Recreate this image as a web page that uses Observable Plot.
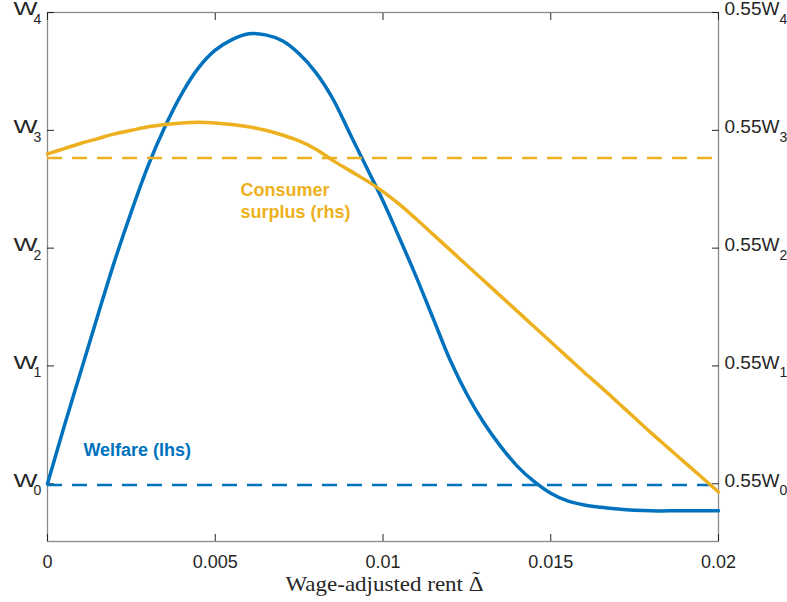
<!DOCTYPE html>
<html><head><meta charset="utf-8">
<script src="https://cdn.jsdelivr.net/npm/d3@7"></script>
<script src="https://cdn.jsdelivr.net/npm/@observablehq/plot@0.6"></script>
<style>body{margin:0;background:#fff}</style>
</head><body><div id="chart"></div>
<script>
// Wage-adjusted rent (x)
const rent = [0, 0.0005, 0.001, 0.0015, 0.002, 0.0025, 0.003, 0.0035, 0.004, 0.0045,
  0.005, 0.0055, 0.006, 0.0065, 0.007, 0.0075, 0.008, 0.0085, 0.009, 0.0095,
  0.01, 0.0105, 0.011, 0.0115, 0.012, 0.0125, 0.013, 0.0135, 0.014, 0.0145,
  0.015, 0.0155, 0.016, 0.0165, 0.017, 0.0175, 0.018, 0.0185, 0.019, 0.0195, 0.02];
// Welfare (lhs), in units of W ticks (W0 = 0)
const welfare = [0, 0.49, 0.96, 1.43, 1.89, 2.31, 2.70, 3.03, 3.31, 3.53,
  3.68, 3.77, 3.82, 3.81, 3.76, 3.65, 3.49, 3.27, 2.98, 2.69,
  2.40, 2.08, 1.75, 1.40, 1.05, 0.76, 0.52, 0.32, 0.15, 0.02,
  -0.08, -0.145, -0.18, -0.20, -0.215, -0.225, -0.23, -0.23, -0.23, -0.23, -0.23];
// Consumer surplus (rhs), in units of 0.55W ticks
const surplus = [2.80, 2.845, 2.89, 2.93, 2.97, 3.00, 3.03, 3.05, 3.063, 3.068,
  3.063, 3.05, 3.03, 3.00, 2.96, 2.91, 2.84, 2.745, 2.66, 2.575,
  2.48, 2.37, 2.245, 2.115, 1.985, 1.855, 1.725, 1.595, 1.465, 1.335,
  1.205, 1.075, 0.945, 0.82, 0.69, 0.56, 0.43, 0.305, 0.18, 0.055, -0.07];
const welfareBaseline = -0.01;
const surplusBaseline = 2.766;

const xTicks = [0, 0.005, 0.01, 0.015, 0.02];
const xTickLabels = ["0", "0.005", "0.01", "0.015", "0.02"];
const yTicks = [0, 1, 2, 3, 4];
const leftTickBase = "W";
const rightTickBase = "0.55W";
const tickSubscripts = ["0", "1", "2", "3", "4"];
const xLabel = "Wage-adjusted rent \u0394";
const xLabelAccent = "\u02DC";

const annotations = [
  {x: 0.00575, y: 2.259, text: "Consumer\nsurplus (rhs)", series: "surplus"},
  {x: 0.00107, y: 0.238, text: "Welfare (lhs)", series: "welfare"}
];

const blue = "#0072BD", orange = "#EDB120", ink = "#262626";
const welfareData = rent.map((x, i) => ({x, y: welfare[i]}));
const surplusData = rent.map((x, i) => ({x, y: surplus[i]}));
const serif = "'Liberation Serif', 'Times New Roman', serif";

const chart = Plot.plot({
  width: 787, height: 602,
  marginLeft: 47, marginRight: 69, marginTop: 12, marginBottom: 61,
  style: {fontFamily: "'Liberation Sans', Arial, Helvetica, sans-serif", fontSize: "18px", background: "white", color: ink, overflow: "visible"},
  x: {domain: [0, 0.02]},
  y: {domain: [-0.49, 4]},
  marks: [
    Plot.frame({stroke: "#8a8a8a", strokeWidth: 1.3}),
    Plot.axisX(xTicks, {anchor: "bottom", tickSize: -7, tickPadding: 21, tickFormat: d => xTickLabels[xTicks.indexOf(d)], label: null, fontSize: 18, fill: ink}),
    Plot.axisX(xTicks, {anchor: "top", tickSize: -7, tickFormat: () => "", label: null}),
    Plot.axisY(yTicks, {anchor: "left", tickSize: -7, tickFormat: () => "", label: null}),
    Plot.axisY(yTicks, {anchor: "right", tickSize: -7, tickFormat: () => "", label: null}),
    Plot.text(yTicks, {frameAnchor: "left", y: d => d, text: () => leftTickBase, textAnchor: "end", dx: -10, dy: -3, fontSize: 18, fill: ink}),
    Plot.text(yTicks, {frameAnchor: "left", y: d => d, text: d => tickSubscripts[d], textAnchor: "start", dx: -14, dy: 7, fontSize: 14, fill: ink}),
    Plot.text(yTicks, {frameAnchor: "right", y: d => d, text: () => rightTickBase, textAnchor: "start", dx: 6, dy: -3, fontSize: 18, fill: ink}),
    Plot.text(yTicks, {frameAnchor: "right", y: d => d, text: d => tickSubscripts[d], textAnchor: "start", dx: 61, dy: 7, fontSize: 14, fill: ink}),
    Plot.text([xLabel], {frameAnchor: "bottom", lineAnchor: "bottom", dx: 1.5, dy: 49, fontFamily: serif, fontSize: 21, fill: ink}),
    Plot.text([xLabelAccent], {frameAnchor: "bottom", lineAnchor: "bottom", dx: 93, dy: 44, fontFamily: serif, fontSize: 22, fill: ink}),
    Plot.ruleY([welfareBaseline], {x1: rent[0], x2: rent[rent.length - 1], stroke: blue, strokeWidth: 2.5, strokeDasharray: "15,10"}),
    Plot.line(welfareData, {x: "x", y: "y", stroke: blue, strokeWidth: 3.5, curve: "catmull-rom"}),
    Plot.ruleY([surplusBaseline], {x1: rent[0], x2: rent[rent.length - 1], stroke: orange, strokeWidth: 2.5, strokeDasharray: "15,10"}),
    Plot.line(surplusData, {x: "x", y: "y", stroke: orange, strokeWidth: 3.5, curve: "catmull-rom"}),
    Plot.text(annotations, {x: "x", y: "y", text: "text", fill: d => d.series === "welfare" ? blue : orange, textAnchor: "start", lineAnchor: "bottom", lineHeight: 1.22, fontSize: 18, fontWeight: "bold"})
  ]
});
document.getElementById("chart").appendChild(chart);
const svg = d3.select(chart);
svg.selectAll("text").each(function () {
  const t = this.textContent;
  if (t === leftTickBase) d3.select(this).attr("textLength", 24).attr("lengthAdjust", "spacingAndGlyphs");
  else if (t === rightTickBase) d3.select(this).attr("textLength", 55).attr("lengthAdjust", "spacingAndGlyphs");
  else if (t === xLabel) d3.select(this).attr("textLength", 198).attr("lengthAdjust", "spacingAndGlyphs");
});
</script>
</body></html>
